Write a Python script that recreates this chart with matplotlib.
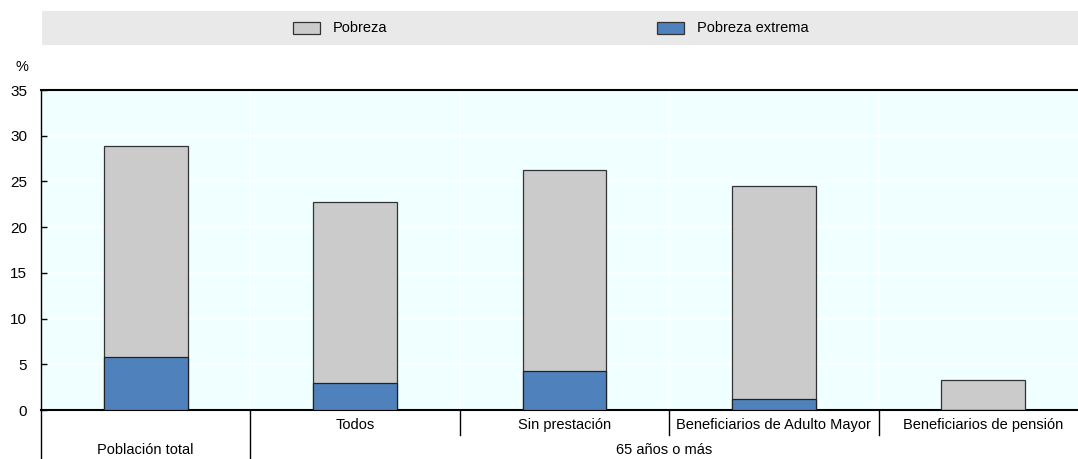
import numpy as np
import matplotlib.pyplot as plt
from matplotlib.patches import Rectangle
import matplotlib.transforms as mtransforms

plt.rcParams['font.family'] = ['Liberation Sans', 'DejaVu Sans']

# Datos (%)
categorias = ['Población total', 'Todos', 'Sin prestación',
              'Beneficiarios de Adulto Mayor', 'Beneficiarios de pensión']
pobreza = [28.9, 22.75, 26.25, 24.5, 3.3]
pobreza_extrema = [5.8, 2.95, 4.27, 1.2, 0.0]
grupo = '65 años o más'

gris = '#CBCBCB'
azul = '#4F81BD'

fig = plt.figure(figsize=(10.78, 4.59), dpi=100)
W, H = 1078, 459
# el eje se sale un poco por la derecha, como en el original
ax = fig.add_axes([41 / W, (H - 410) / H, 1047 / W, 320 / H])
ax.set_facecolor('#F0FFFF')

x = np.arange(len(categorias))
ancho = 0.4
# la barra gris es la pobreza total, la azul se superpone desde 0
ax.bar(x, pobreza, ancho, color=gris, edgecolor='#333333', linewidth=0.9, zorder=3)
ax.bar(x, pobreza_extrema, ancho, color=azul, edgecolor='#222222', linewidth=0.9, zorder=4)

ax.set_xlim(-0.5, len(categorias) - 0.5)
ax.set_ylim(0, 35)
ax.set_yticks(np.arange(0, 36, 5))
ax.tick_params(axis='y', direction='in', length=4, width=1, labelsize=11, pad=10)
ax.tick_params(axis='x', length=0, labelbottom=False)

# rejilla blanca
for yv in range(5, 35, 5):
    ax.axhline(yv, color='white', lw=1.2, zorder=1)
for xv in np.arange(0.5, len(categorias) - 0.5, 1):
    ax.axvline(xv, color='white', lw=1.2, zorder=1)

ax.spines['right'].set_visible(False)
ax.spines['top'].set_linewidth(1.5)
ax.spines['bottom'].set_linewidth(1.5)
ax.spines['left'].set_linewidth(1.0)

trans = mtransforms.blended_transform_factory(ax.transData, fig.transFigure)
# separadores bajo el eje
ax.plot([0.5, 0.5], [(H - 410) / H, 0], transform=trans, color='black', lw=1.0, clip_on=False)
for xv in np.arange(1.5, len(categorias) - 0.5, 1):
    ax.plot([xv, xv], [(H - 410) / H, (H - 435) / H], transform=trans,
            color='black', lw=1.0, clip_on=False)
ax.plot([-0.5, -0.5], [(H - 410) / H, 0], transform=trans, color='black', lw=1.0, clip_on=False)

# etiquetas de categoría
ax.text(x[0], (H - 450) / H, categorias[0], transform=trans, ha='center', va='center', fontsize=10.5)
for i in range(1, len(categorias)):
    ax.text(x[i], (H - 425) / H, categorias[i], transform=trans, ha='center', va='center', fontsize=10.5)
# el grupo se centra en la parte visible
fig.text(664 / W, (H - 450) / H, grupo, ha='center', va='center', fontsize=10.5)

fig.text(22 / W, (H - 67) / H, '%', ha='center', va='center', fontsize=10.5)

# leyenda en banda gris
fig.patches.append(Rectangle((42 / W, (H - 45) / H), (W - 42) / W, 34 / H,
                             transform=fig.transFigure, facecolor='#E9E9E9', edgecolor='none'))
for px, col, lab in [(293, gris, 'Pobreza'), (657, azul, 'Pobreza extrema')]:
    fig.patches.append(Rectangle((px / W, (H - 34) / H), 27 / W, 12 / H, transform=fig.transFigure,
                                 facecolor=col, edgecolor='#333333', linewidth=0.9))
    fig.text((px + 40) / W, (H - 28) / H, lab, ha='left', va='center', fontsize=10.5)

fig.savefig('out.png', dpi=100)
